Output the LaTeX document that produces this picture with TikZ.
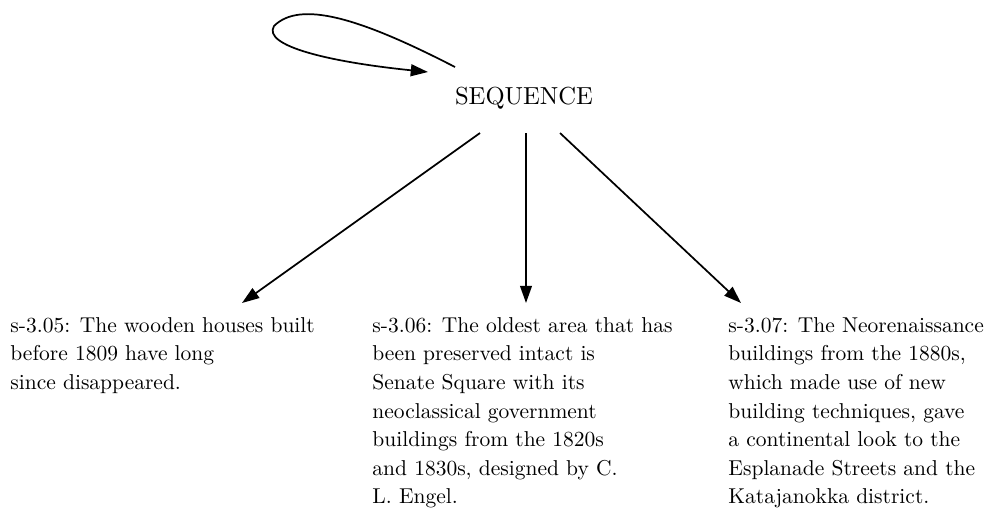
\documentclass[tikz,border=0pt]{standalone}
\usetikzlibrary{arrows.meta}
\begin{document}
\begin{tikzpicture}[x=0.406pt,y=-0.406pt,
  edge/.style={line width=0.7pt,-{Triangle[length=7pt,width=4.8pt]}},
  desc/.style={anchor=north west,inner sep=0pt,align=left,
    scale=0.873,transform shape,
    font=\fontsize{10}{13.3}\selectfont}]
\useasboundingbox (0,0) rectangle (993,518);

% central node
\node[inner sep=0pt,anchor=base] (seq) at (524,104) {SEQUENCE};

% statement nodes
\node[desc] (s305) at (10,317) {s-3.05: The wooden houses built\\before 1809 have long\\since disappeared.};
\node[desc] (s306) at (372,317) {s-3.06: The oldest area that has\\been preserved intact is\\Senate Square with its\\neoclassical government\\buildings from the 1820s\\and 1830s, designed by C.\\L. Engel.};
\node[desc] (s307) at (728,317) {s-3.07: The Neorenaissance\\buildings from the 1880s,\\which made use of new\\building techniques, gave\\a continental look to the\\Esplanade Streets and the\\Katajanokka district.};

% connector end points
\coordinate (loopout) at (455,67);
\coordinate (loopin) at (428,72);
\coordinate (outL) at (480,133);
\coordinate (outM) at (526,133);
\coordinate (outR) at (560,133);
\coordinate (inL) at (242,303);
\coordinate (inM) at (526,303);
\coordinate (inR) at (741,303);

% self loop
\draw[edge] (loopout) .. controls (360,18) and (300,0) .. (274,26)
  .. controls (262,46) and (330,62) .. (loopin);

% edges to statements
\draw[edge] (outL) -- (inL);
\draw[edge] (outM) -- (inM);
\draw[edge] (outR) -- (inR);
\end{tikzpicture}
\end{document}
